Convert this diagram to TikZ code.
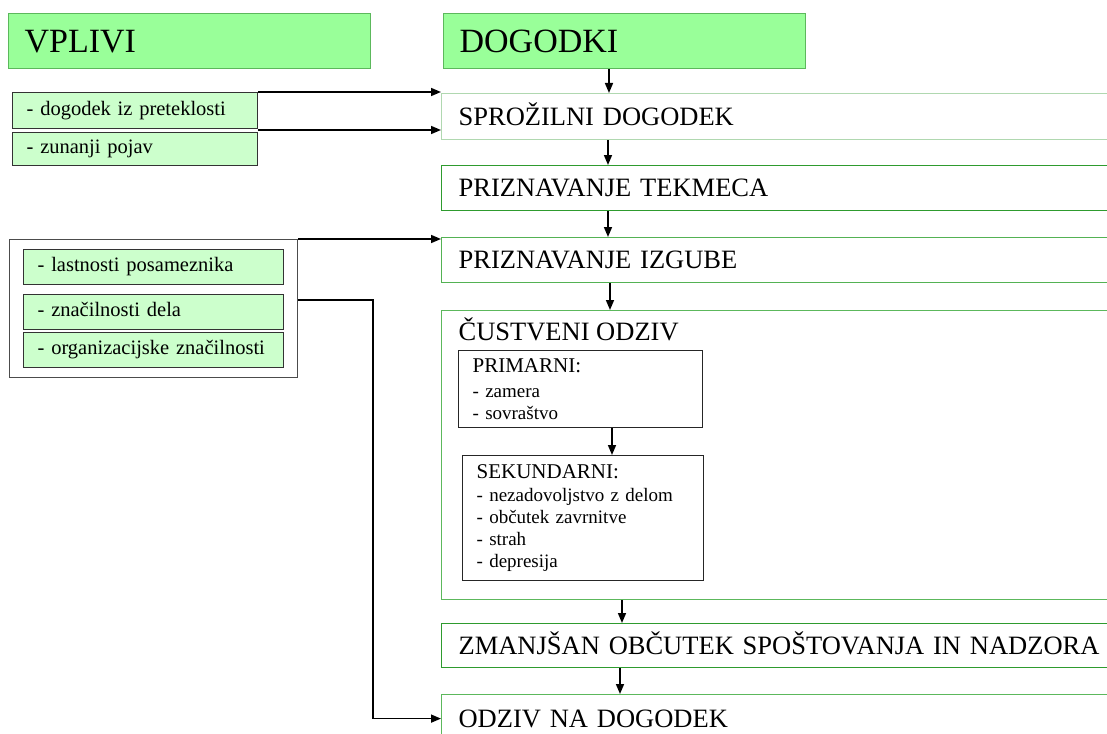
\documentclass[tikz,border=0pt]{standalone}
\usepackage{fontspec}
\setmainfont{Liberation Serif}
\usetikzlibrary{arrows.meta}
\definecolor{titlegreen}{HTML}{99FF99}
\definecolor{itemgreen}{HTML}{CCFFCC}
\definecolor{lightrim}{HTML}{B0D8B0}
\definecolor{darkrim}{HTML}{2E9B2E}
\definecolor{midrim}{HTML}{5CB85C}

\begin{document}
\begin{tikzpicture}[x=1pt, y=-1pt, line width=1.2pt,
  titlebox/.style={draw=midrim, fill=titlegreen, anchor=north west, minimum height=55pt,
    text width=330pt, inner xsep=16pt, inner ysep=0pt, align=left,
    font=\fontsize{34}{40}\selectfont, text height=22.5pt, text depth=0pt},
  flowbox/.style={draw=darkrim, anchor=north west, text width=666pt, inner xsep=17pt,
    inner ysep=0pt, align=left, font=\fontsize{26.5}{31}\selectfont,
    text height=17.5pt, text depth=0pt},
  itembox/.style={draw=black!80, fill=itemgreen, anchor=north west, inner xsep=14pt,
    inner ysep=0pt, align=left, font=\fontsize{20.5}{24}\selectfont,
    text height=14pt, text depth=4.5pt},
  listbox/.style={draw=black!85, anchor=north west, inner xsep=14pt, inner ysep=0pt,
    align=left, font=\fontsize{19}{22}\selectfont},
  arr/.style={-{Triangle[length=10pt,width=8pt]}, line width=1.6pt}]
  \useasboundingbox (0,0) rectangle (1107,733);
  \clip (0,0) rectangle (1107,733);

  % headings
  \node[titlebox] (vplivi) at (8,13) {VPLIVI};
  \node[titlebox] (dogodki) at (443,13) {DOGODKI};

  % chain of events
  \node[flowbox, draw=lightrim, minimum height=46pt] (sprozilni) at (441,93) {SPROŽILNI DOGODEK};
  \node[flowbox, minimum height=45pt] (tekmeca) at (441,165) {PRIZNAVANJE TEKMECA};
  \node[flowbox, draw=midrim!80!darkrim, minimum height=45pt] (izgube) at (441,237) {PRIZNAVANJE IZGUBE};
  \node[flowbox, draw=midrim, minimum height=289pt] (custveni) at (441,310) {};
  \node[anchor=base west, inner sep=0pt, font=\fontsize{26.5}{31}\selectfont] (custvenitxt) at (458,340) {ČUSTVENI ODZIV};
  \node[listbox, text width=216pt, minimum height=77pt] (primarni) at (458,350)
    {{\fontsize{21}{25}\selectfont PRIMARNI:}\\[3pt] - zamera\\ - sovraštvo};
  \node[listbox, text width=213pt, minimum height=125pt] (sekundarni) at (462,455)
    {{\fontsize{21}{25}\selectfont SEKUNDARNI:}\\[1pt] - nezadovoljstvo z delom\\ - občutek zavrnitve\\ - strah\\ - depresija};
  \node[flowbox, minimum height=44pt] (zmanjsan) at (441,623) {ZMANJŠAN OBČUTEK SPOŠTOVANJA IN NADZORA};
  \node[flowbox, draw=midrim, minimum height=48pt] (odziv) at (441,694) {ODZIV NA DOGODEK};

  % influences
  \node[itembox, text width=217pt, minimum height=36pt] (preteklost) at (12,92) {- dogodek iz preteklosti};
  \node[itembox, text width=217pt, minimum height=33pt] (pojav) at (12,132) {- zunanji pojav};
  \node[draw=black!70, anchor=north west, minimum width=288pt, minimum height=138pt] (dejavniki) at (9,239) {};
  \node[itembox, text width=232pt, minimum height=35pt] (posameznik) at (23,249) {- lastnosti posameznika};
  \node[itembox, text width=232pt, minimum height=35pt] (delo) at (23,294) {- značilnosti dela};
  \node[itembox, text width=232pt, minimum height=35pt] (organizacija) at (23,332) {- organizacijske značilnosti};

  % arrows down the chain
  \draw[arr] ([xshift=166pt]dogodki.south west) -- ([xshift=166pt]dogodki.south west |- sprozilni.north);
  \draw[arr] ([xshift=167pt]sprozilni.south west) -- ([xshift=167pt]tekmeca.north west);
  \draw[arr] ([xshift=167pt]tekmeca.south west) -- ([xshift=167pt]izgube.north west);
  \draw[arr] ([xshift=169pt]izgube.south west) -- ([xshift=169pt]custveni.north west);
  \draw[arr] ([xshift=154pt]primarni.south west) -- ([xshift=154pt]primarni.south west |- sekundarni.north);
  \draw[arr] ([xshift=181pt]custveni.south west) -- ([xshift=181pt]zmanjsan.north west);
  \draw[arr] ([xshift=179pt]zmanjsan.south west) -- ([xshift=179pt]odziv.north west);

  % arrows from the influences
  \draw[arr] (preteklost.north east) -- (preteklost.north east -| sprozilni.west);
  \draw[arr] ([yshift=2pt]pojav.north east) -- ([yshift=2pt]pojav.north east -| sprozilni.west);
  \draw[arr] (dejavniki.north east) -- (dejavniki.north east -| izgube.west);
  \draw[arr] ([yshift=-6pt]delo.north -| dejavniki.east) -- ++(75,0) |- (odziv.west);
\end{tikzpicture}
\end{document}
